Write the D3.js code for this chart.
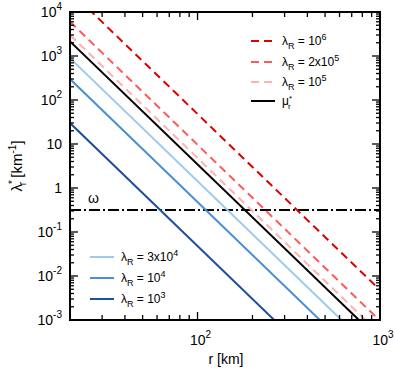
<!DOCTYPE html>
<html>
<head>
<meta charset="utf-8">
<script src="https://cdn.jsdelivr.net/npm/d3@7"></script>
<style>
  body { margin: 0; background: #fff; }
  svg text { font-family: "Liberation Sans", Arial, sans-serif; fill: #000; }
</style>
</head>
<body>
<div id="chart"></div>
<script>
// values: each line is straight in log-log, so two ends each
const rEnds = [20, 1000];                       // km
const seriesNames = ["lr1e6", "lr2e5", "lr1e5", "mu", "lr3e4", "lr1e4", "lr1e3"];
const seriesStart = [3.0e4, 6.0e3, 3.0e3, 2.15e3, 8.9e2, 3.0e2, 3.0e1];   // at r = 20
const seriesEnd   = [4.8e-3, 9.6e-4, 4.8e-4, 3.45e-4, 1.43e-4, 4.8e-5, 4.8e-6]; // at r = 1000
const seriesColor = ["#dd0000", "#ff5a5a", "#ffb0b0", "#000000", "#9ccaf0", "#4a8fd6", "#1f4e9c"];
const seriesDashed = [true, true, true, false, false, false, false];
const omega = 0.316;
const yTicks = [1e4, 1e3, 1e2, 10, 1, 0.1, 0.01, 0.001];
const yTickLabels = [["10", "4"], ["10", "3"], ["10", "2"], ["10", ""], ["1", ""], ["10", "-1"], ["10", "-2"], ["10", "-3"]];
const xTicks = [100, 1000];
const xTickLabels = [["10", "2"], ["10", "3"]];

const W = 395, H = 371;
const m = { top: 12, right: 15, bottom: 51, left: 70 };

const svg = d3.select("#chart").append("svg")
    .attr("width", W).attr("height", H);

const x = d3.scaleLog().domain([20, 1000]).range([m.left, W - m.right]);
const y = d3.scaleLog().domain([1e-3, 1e4]).range([H - m.bottom, m.top]);

svg.append("clipPath").attr("id", "clip")
  .append("rect")
    .attr("x", x(20)).attr("y", y(1e4))
    .attr("width", x(1000) - x(20)).attr("height", y(1e-3) - y(1e4));

const plot = svg.append("g").attr("clip-path", "url(#clip)");
const line = d3.line().x(d => x(d[0])).y(d => y(d[1]));

// omega line
plot.append("path")
    .attr("d", line([[20, omega], [1000, omega]]))
    .attr("stroke", "#000").attr("stroke-width", 1.8).attr("fill", "none")
    .attr("stroke-dasharray", "11,3,2,3");

seriesNames.forEach((name, i) => {
  plot.append("path")
      .attr("d", line([[rEnds[0], seriesStart[i]], [rEnds[1], seriesEnd[i]]]))
      .attr("stroke", seriesColor[i])
      .attr("stroke-width", 2)
      .attr("fill", "none")
      .attr("stroke-dasharray", seriesDashed[i] ? "8,5" : null);
});

// ticks, inward on all four sides
const ax = svg.append("g").attr("stroke", "#000").attr("stroke-width", 1.3);
const yMinor = [], xMinor = [];
for (let e = -3; e < 4; e++) for (let k = 2; k < 10; k++) yMinor.push(k * Math.pow(10, e));
for (let e = 1; e < 3; e++) for (let k = 2; k < 10; k++) { const v = k * Math.pow(10, e); if (v > 20) xMinor.push(v); }

yTicks.forEach(v => {
  ax.append("line").attr("x1", x(20)).attr("x2", x(20) + 8).attr("y1", y(v)).attr("y2", y(v));
  ax.append("line").attr("x1", x(1000)).attr("x2", x(1000) - 8).attr("y1", y(v)).attr("y2", y(v));
});
yMinor.forEach(v => {
  ax.append("line").attr("x1", x(20)).attr("x2", x(20) + 4).attr("y1", y(v)).attr("y2", y(v));
  ax.append("line").attr("x1", x(1000)).attr("x2", x(1000) - 4).attr("y1", y(v)).attr("y2", y(v));
});
xTicks.forEach(v => {
  ax.append("line").attr("x1", x(v)).attr("x2", x(v)).attr("y1", y(1e-3)).attr("y2", y(1e-3) - 8);
  ax.append("line").attr("x1", x(v)).attr("x2", x(v)).attr("y1", y(1e4)).attr("y2", y(1e4) + 8);
});
xMinor.forEach(v => {
  ax.append("line").attr("x1", x(v)).attr("x2", x(v)).attr("y1", y(1e-3)).attr("y2", y(1e-3) - 5);
  ax.append("line").attr("x1", x(v)).attr("x2", x(v)).attr("y1", y(1e4)).attr("y2", y(1e4) + 5);
});

svg.append("rect")
    .attr("x", x(20)).attr("y", y(1e4))
    .attr("width", x(1000) - x(20)).attr("height", y(1e-3) - y(1e4))
    .attr("fill", "none").attr("stroke", "#000").attr("stroke-width", 2);

// tick labels
function powLabel(g, base, exp, xx, yy, anchor) {
  const t = g.append("text").attr("x", xx).attr("y", yy)
      .attr("text-anchor", anchor).style("font-size", "14px");
  t.append("tspan").text(base);
  if (exp) t.append("tspan").attr("dy", -7).style("font-size", "10px").text(exp);
  return t;
}
yTicks.forEach((v, i) => {
  powLabel(svg, yTickLabels[i][0], yTickLabels[i][1], 62, y(v) + 5, "end");
});
xTicks.forEach((v, i) => {
  powLabel(svg, xTickLabels[i][0], xTickLabels[i][1], x(v) + 3, 345, "middle");
});

svg.append("text").attr("x", 226).attr("y", 364)
    .attr("text-anchor", "middle").style("font-size", "14px").text("r [km]");

// y title
const yt = svg.append("text")
    .attr("transform", "translate(22," + 166 + ") rotate(-90)")
    .attr("text-anchor", "middle").style("font-size", "15px");
yt.append("tspan").text("λ");
yt.append("tspan").attr("dy", -6).attr("dx", 0).style("font-size", "10px").text("*");
yt.append("tspan").attr("dy", 10).attr("dx", -5).style("font-size", "10px").text("r");
yt.append("tspan").attr("dy", -4).text(" [km");
yt.append("tspan").attr("dy", -6).style("font-size", "10px").text("-1");
yt.append("tspan").attr("dy", 6).text("]");

svg.append("text").attr("x", 88).attr("y", 203)
    .style("font-size", "14px").text("ω");

// legends
function legendEntry(i, lx, ly, exp, pre) {
  svg.append("line")
      .attr("x1", lx).attr("x2", lx + 24).attr("y1", ly).attr("y2", ly)
      .attr("stroke", seriesColor[i]).attr("stroke-width", 2)
      .attr("stroke-dasharray", seriesDashed[i] ? "8,5" : null);
  const t = svg.append("text").attr("x", lx + 31).attr("y", ly + 4).style("font-size", "12px");
  if (i === 3) {
    t.append("tspan").text("μ");
    t.append("tspan").attr("dy", -4).attr("dx", 0).style("font-size", "8px").text("*");
    t.append("tspan").attr("dy", 8).attr("dx", -4).style("font-size", "8px").text("r");
    return;
  }
  t.append("tspan").text("λ");
  t.append("tspan").attr("dy", 4).style("font-size", "9px").text("R");
  t.append("tspan").attr("dy", -4).text(" = " + pre + "10");
  t.append("tspan").attr("dy", -5).style("font-size", "9px").text(exp);
}
legendEntry(0, 251, 41, "6", "");
legendEntry(1, 251, 62, "5", "2x");
legendEntry(2, 251, 82, "5", "");
legendEntry(3, 251, 101, "", "");
legendEntry(4, 90, 257, "4", "3x");
legendEntry(5, 90, 278, "4", "");
legendEntry(6, 90, 299, "3", "");
</script>
</body>
</html>
